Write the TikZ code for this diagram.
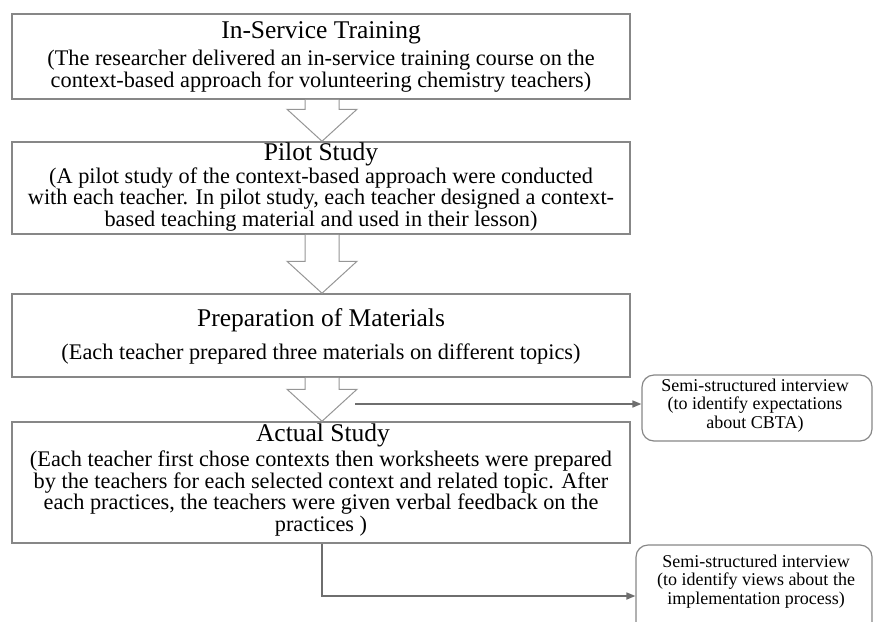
\documentclass[tikz,border=0pt]{standalone}
\usepackage{fontspec}
\setmainfont{Liberation Serif}
\usetikzlibrary{arrows.meta,calc}
\definecolor{edge}{RGB}{135,135,135}
\definecolor{arrowedge}{RGB}{150,150,150}
\definecolor{conncol}{RGB}{110,110,110}
\begin{document}
\begin{tikzpicture}[x=1pt,y=-1pt,
  box/.style={draw=edge, line width=1.5pt, fill=white, inner sep=0pt, minimum width=618pt},
  ttl/.style={font=\fontsize{25.5}{25.5}\selectfont, anchor=base, inner sep=0pt},
  bdy/.style={font=\fontsize{22.3}{20}\selectfont, align=center, anchor=base, inner sep=0pt},
  side/.style={draw=edge, line width=1.2pt, rounded corners=12pt, fill=white, inner sep=0pt, minimum width=230pt},
  sidetxt/.style={font=\fontsize{18}{18.5}\selectfont, align=center, inner sep=0pt},
  bigarrow/.style={draw=arrowedge, fill=white, line width=1pt, line join=miter},
  conn/.style={draw=conncol, line width=1.6pt, -{Triangle[length=9pt,width=7pt]}}]
\useasboundingbox (0,0) rectangle (874,621);
\begin{scope}
\clip (0,0) rectangle (874,621);
% main boxes
\node[box, minimum height=85pt] (b1) at (321,56.5) {};
\node[box, minimum height=92pt] (b2) at (321,188) {};
\node[box, minimum height=83pt] (b3) at (321,335.5) {};
\node[box, minimum height=121pt] (b4) at (321,482.5) {};
% side boxes
\node[side, minimum height=66pt] (s1) at (757,408) {};
\node[side, minimum height=100pt, minimum width=236pt] (s2) at (754,595) {};
\end{scope}
% titles and texts
\node[ttl] (t1) at (321,38) {In-Service Training};
\node[bdy] (x1) at (321,87) {(The researcher delivered an in-service training course on the\\context-based approach for volunteering chemistry teachers)};
\node[ttl] (t2) at (321,160) {Pilot Study};
\node[bdy, font=\fontsize{22.3}{19.5}\selectfont] (x2) at (321,226) {(A pilot study of the context-based approach were conducted\\with each teacher. In pilot study, each teacher designed a context-\\based teaching material and used in their lesson)};
\node[ttl] (t3) at (321,326) {Preparation of Materials};
\node[bdy] (x3) at (321,359) {(Each teacher prepared three materials on different topics)};
\node[ttl] (t4) at (323,441) {Actual Study};
\node[bdy, font=\fontsize{22.3}{19.8}\selectfont] (x4) at (321,531) {(Each teacher first chose contexts then worksheets were prepared\\by the teachers for each selected context and related topic. After\\each practices, the teachers were given verbal feedback on the\\practices )};
\node[sidetxt, anchor=base] (st1) at (755,428) {Semi-structured interview\\(to identify expectations\\about CBTA)};
\node[sidetxt, anchor=base] (st2) at (756,604) {Semi-structured interview\\(to identify views about the\\implementation process)};
% block arrows between boxes
\coordinate (ax) at (322,0);
\foreach \from/\to/\nm in {b1/b2/a1, b2/b3/a2, b3/b4/a3}{
  \coordinate (\nm top) at (\from.south -| ax);
  \coordinate (\nm tip) at (\to.north -| ax);
  \draw[bigarrow] ($(\nm top)+(-17,0)$) -- ($(\nm tip)+(-17,-32)$) -- ($(\nm tip)+(-35,-32)$)
     -- (\nm tip) -- ($(\nm tip)+(35,-32)$) -- ($(\nm tip)+(17,-32)$) -- ($(\nm top)+(17,0)$);
}
% connectors
\coordinate (c1) at (355,404);
\draw[conn] (c1) -- (c1 -| s1.west);
\coordinate (c2) at (322,596);
\draw[conn] (b4.south -| c2) -- (c2) -- (c2 -| s2.west);
\end{tikzpicture}
\end{document}
